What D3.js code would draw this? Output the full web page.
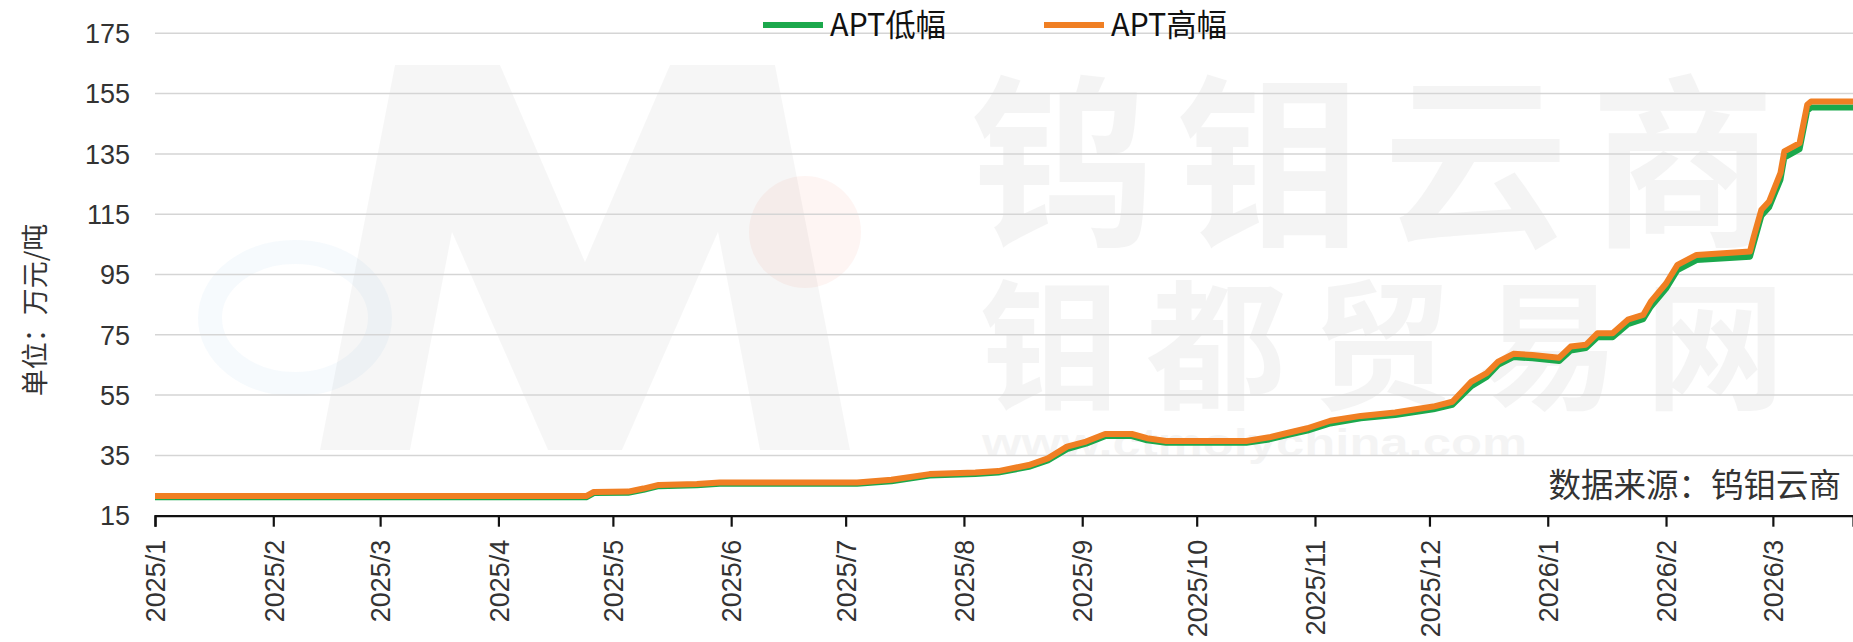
<!DOCTYPE html>
<html>
<head>
<meta charset="utf-8">
<script src="https://cdn.jsdelivr.net/npm/d3@7"></script>
<style>
  html, body { margin: 0; padding: 0; background: #fff; }
  svg { display: block; }
  text { font-family: "Liberation Sans", Arial, "Noto Sans CJK SC", sans-serif; }
  .cjk { font-family: "Noto Sans CJK SC", "Liberation Sans", sans-serif; }
</style>
</head>
<body>
<svg id="chart" width="1853" height="642"></svg>
<script>
// ---------------- data ----------------
const dates = [
  "2025-01-01","2025-04-24","2025-04-26","2025-05-05","2025-05-09","2025-05-13","2025-05-23","2025-05-29",
  "2025-07-04","2025-07-13","2025-07-23","2025-08-04","2025-08-10","2025-08-18","2025-08-23","2025-08-28",
  "2025-09-02","2025-09-07","2025-09-14","2025-09-18","2025-09-23","2025-10-14","2025-10-20","2025-10-25",
  "2025-10-30","2025-11-05","2025-11-13","2025-11-22","2025-12-02","2025-12-07","2025-12-12","2025-12-16",
  "2025-12-19","2025-12-23","2025-12-28","2026-01-04","2026-01-07","2026-01-11","2026-01-14","2026-01-18",
  "2026-01-22","2026-01-26","2026-01-28","2026-02-01","2026-02-04","2026-02-09","2026-02-23","2026-02-24",
  "2026-02-26","2026-02-28","2026-03-03","2026-03-04","2026-03-08","2026-03-10","2026-03-11","2026-03-22"
];
const aptHigh = [
  21.5,21.5,22.9,23.0,24.0,25.2,25.5,26.0,
  26.0,26.9,28.8,29.3,29.8,31.8,34.0,37.9,
  39.6,42.1,42.1,40.7,39.8,39.8,41.0,42.5,
  44.0,46.5,48.1,49.2,51.2,52.8,59.5,62.3,
  66.1,68.7,68.3,67.4,71.1,71.7,75.5,75.5,
  80.0,81.6,86.0,92.0,98.2,101.5,102.6,107.6,
  116.5,119.2,128.7,135.8,138.6,151.3,152.4,152.4
];
const aptLow = [
  21.1,21.1,22.5,22.6,23.6,24.8,25.1,25.6,
  25.6,26.4,28.3,28.8,29.3,31.2,33.3,37.1,
  38.9,41.4,41.4,40.0,39.2,39.2,40.3,41.8,
  43.2,45.6,47.3,48.4,50.3,51.8,58.0,61.0,
  65.0,67.6,67.2,66.3,69.8,70.6,74.2,74.2,
  78.5,80.2,84.3,90.3,96.5,99.8,100.9,105.5,
  114.5,117.3,126.5,133.8,136.6,149.3,150.4,150.4
];
const seriesNames = ["APT低幅", "APT高幅"];
const seriesColors = ["#1ba84c", "#f07f23"];
const yTicks = [15, 35, 55, 75, 95, 115, 135, 155, 175];
const monthTicks = ["2025/1","2025/2","2025/3","2025/4","2025/5","2025/6","2025/7","2025/8","2025/9","2025/10","2025/11","2025/12","2026/1","2026/2","2026/3"];
const yTitle = "单位：万元/吨";
const sourceText = "数据来源：钨钼云商";

// ---------------- layout ----------------
const svg = d3.select("#chart");
const plotLeft = 155, plotRight = 1853, plotTop = 33.3, plotBottom = 515.7;
const parse = d3.timeParse("%Y-%m-%d");
const parseM = d3.timeParse("%Y/%m");

const x = d3.scaleTime()
  .domain([parse("2025-01-01"), parse("2026-03-22")])
  .range([plotLeft, plotRight]);
const y = d3.scaleLinear().domain([15, 175]).range([plotBottom, plotTop]);

// ---------------- watermark ----------------
const wm = svg.append("g").attr("class", "watermark");
wm.append("path")
  .attr("d", "M320,450 L395,65 L500,65 L585,262 L670,65 L775,65 L850,450 L760,450 L718,232 L622,450 L548,450 L452,232 L410,450 Z")
  .attr("fill", "#000").attr("opacity", 0.035);
wm.append("ellipse").attr("cx", 295).attr("cy", 318).attr("rx", 85).attr("ry", 66)
  .attr("fill", "none").attr("stroke", "#6ea8dc").attr("stroke-width", 24).attr("opacity", 0.06);
wm.append("circle").attr("cx", 805).attr("cy", 232).attr("r", 56)
  .attr("fill", "#f08060").attr("opacity", 0.08);
wm.append("text").attr("class", "cjk").attr("x", 970).attr("y", 232)
  .attr("font-size", 185).attr("font-weight", 700)
  .attr("textLength", 805).attr("lengthAdjust", "spacing")
  .attr("fill", "#000").attr("opacity", 0.04).text("钨钼云商");
wm.append("text").attr("class", "cjk").attr("x", 980).attr("y", 398)
  .attr("font-size", 140).attr("font-weight", 700)
  .attr("textLength", 805).attr("lengthAdjust", "spacing")
  .attr("fill", "#000").attr("opacity", 0.04).text("钼都贸易网");
wm.append("text").attr("x", 982).attr("y", 456)
  .attr("font-size", 38).attr("font-weight", 700)
  .attr("textLength", 545).attr("lengthAdjust", "spacingAndGlyphs")
  .attr("fill", "#000").attr("opacity", 0.04).text("www.ctmolychina.com");

// ---------------- grid ----------------
svg.append("g").selectAll("line").data(yTicks.filter(d => d !== 15)).join("line")
  .attr("x1", plotLeft).attr("x2", plotRight)
  .attr("y1", d => y(d)).attr("y2", d => y(d))
  .attr("stroke", "#d5d5d5").attr("stroke-width", 1.5);

// y labels
svg.append("g").selectAll("text").data(yTicks).join("text")
  .attr("x", 130).attr("y", d => y(d)).attr("dy", "0.36em")
  .attr("text-anchor", "end").attr("font-size", 27).attr("fill", "#333")
  .text(d => d);

// y title
svg.append("text").attr("class", "cjk")
  .attr("transform", "translate(45,310) rotate(-90)")
  .attr("text-anchor", "middle").attr("font-size", 27).attr("fill", "#333")
  .text(yTitle);

// ---------------- x axis ----------------
const xAxis = d3.axisBottom(x)
  .tickValues(monthTicks.map(parseM))
  .tickSize(11)
  .tickFormat(d3.timeFormat("%Y/%-m"));
const gx = svg.append("g").attr("transform", `translate(0,${plotBottom})`).call(xAxis);
gx.select(".domain").attr("stroke", "#111").attr("stroke-width", 2.2);
gx.selectAll(".tick line").attr("stroke", "#111").attr("stroke-width", 2.2);
gx.selectAll(".tick text")
  .attr("font-size", 27).attr("fill", "#333")
  .attr("font-family", "'Liberation Sans', Arial, sans-serif")
  .attr("transform", "rotate(-90)")
  .attr("text-anchor", "end")
  .attr("x", -24).attr("y", 0).attr("dy", "0.36em");

// ---------------- lines ----------------
const line = d3.line().x(d => x(d[0])).y(d => y(d[1])).curve(d3.curveLinear);
const lowData = dates.map((d, i) => [parse(d), aptLow[i]]);
const highData = dates.map((d, i) => [parse(d), aptHigh[i]]);

svg.append("path").datum(lowData).attr("d", line)
  .attr("fill", "none").attr("stroke", seriesColors[0]).attr("stroke-width", 6)
  .attr("stroke-linejoin", "round");
svg.append("path").datum(highData).attr("d", line)
  .attr("fill", "none").attr("stroke", seriesColors[1]).attr("stroke-width", 6)
  .attr("stroke-linejoin", "round");

// ---------------- legend ----------------
const legendX = [763, 1044];
const lg = svg.append("g");
seriesNames.forEach((name, i) => {
  const g = lg.append("g").attr("transform", `translate(${legendX[i]},25)`);
  g.append("line").attr("x1", 0).attr("x2", 60).attr("y1", 0).attr("y2", 0)
    .attr("stroke", seriesColors[i]).attr("stroke-width", 6);
  g.append("text").attr("class", "cjk").attr("x", 67).attr("y", 0).attr("dy", "0.36em")
    .attr("font-size", 31).attr("fill", "#111")
    .attr("textLength", 116).attr("lengthAdjust", "spacingAndGlyphs")
    .text(name);
});

// ---------------- source ----------------
svg.append("text").attr("class", "cjk")
  .attr("x", 1841).attr("y", 497).attr("text-anchor", "end")
  .attr("font-size", 32.5).attr("fill", "#333")
  .text(sourceText);
</script>
</body>
</html>
